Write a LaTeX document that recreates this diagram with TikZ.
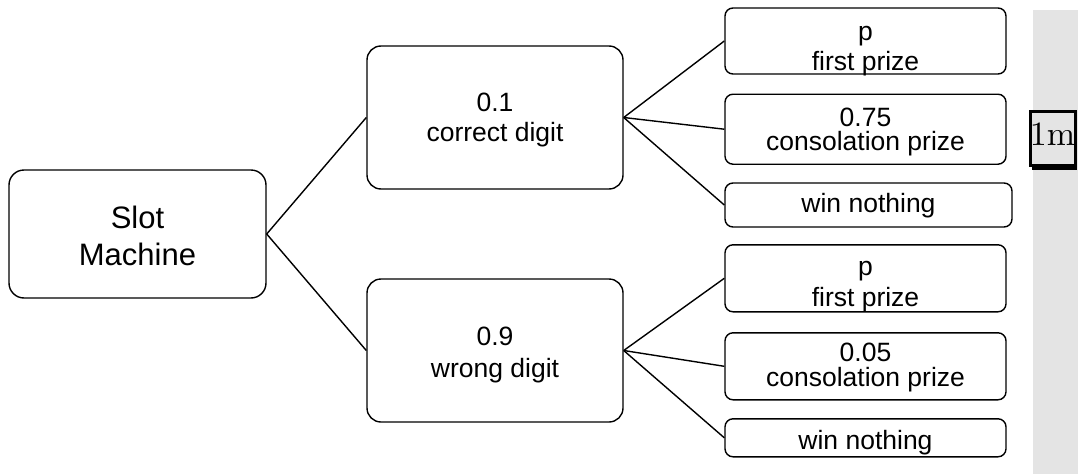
\documentclass[tikz,border=0pt]{standalone}
\usepackage{fontspec}
\newfontfamily\arial{Liberation Sans}
\newfontfamily\lmten{lmroman10-regular}[Extension=.otf]
\usetikzlibrary{shadows,calc}
\definecolor{panel}{RGB}{228,228,228}
\begin{document}
\begin{tikzpicture}[x=1pt,y=-1pt,
  box/.style={draw=black, line width=1.4pt, inner sep=0pt},
  bigbox/.style={box, rounded corners=14pt},
  rootbox/.style={box, rounded corners=15pt},
  leafbox/.style={box, rounded corners=8pt},
  lbl/.style={anchor=base, inner sep=0pt, text=black, font=\arial\fontsize{26.5}{30}\selectfont},
  rootlbl/.style={lbl, font=\arial\fontsize{31}{37}\selectfont},
  link/.style={draw=black, line width=1.4pt}]
\useasboundingbox (0,0) rectangle (1080,474);
\fill[panel] (1033,10) rectangle (1078,474);
% boxes
\node[rootbox, minimum width=257pt, minimum height=128pt] (slot) at (137.5,234) {};
\node[bigbox, minimum width=256pt, minimum height=143pt] (cor) at (495,117.5) {};
\node[bigbox, minimum width=256pt, minimum height=143pt] (wro) at (495,350.5) {};
\node[leafbox, minimum width=281pt, minimum height=66pt] (p1) at (865.5,41) {};
\node[leafbox, minimum width=281pt, minimum height=70pt] (c1) at (865.5,129.2) {};
\node[leafbox, minimum width=287pt, minimum height=44pt] (n1) at (868.5,205) {};
\node[leafbox, minimum width=281pt, minimum height=67pt] (p2) at (865.5,278.3) {};
\node[leafbox, minimum width=281pt, minimum height=67pt] (c2) at (865.5,366.3) {};
\node[leafbox, minimum width=281pt, minimum height=38pt] (n2) at (865.5,437.8) {};
% texts
\node[rootlbl] (slotA) at ($(slot.center)+(0,-5.7)$) {Slot};
\node[rootlbl] (slotB) at ($(slot.center)+(0,31)$) {Machine};
\node[lbl] (corA) at ($(cor.center)+(0,-5.8)$) {0.1};
\node[lbl] (corB) at ($(cor.center)+(0,24.2)$) {correct digit};
\node[lbl] (wroA) at ($(wro.center)+(0,-5.5)$) {0.9};
\node[lbl] (wroB) at ($(wro.center)+(0,26.8)$) {wrong digit};
\node[lbl] (p1A) at ($(p1.center)+(0,-1)$) {p};
\node[lbl] (p1B) at ($(p1.center)+(0,29)$) {first prize};
\node[lbl] (c1A) at ($(c1.center)+(0,-3.2)$) {0.75};
\node[lbl] (c1B) at ($(c1.center)+(0,21.5)$) {consolation prize};
\node[lbl] (n1A) at ($(n1.center)+(0,7.7)$) {win nothing};
\node[lbl] (p2A) at ($(p2.center)+(0,-3)$) {p};
\node[lbl] (p2B) at ($(p2.center)+(0,27.7)$) {first prize};
\node[lbl] (c2A) at ($(c2.center)+(0,-4.6)$) {0.05};
\node[lbl] (c2B) at ($(c2.center)+(0,20.4)$) {consolation prize};
\node[lbl] (n2A) at ($(n2.center)+(0,11.5)$) {win nothing};
% connectors
\draw[link] (slot.east) -- (cor.west);
\draw[link] (slot.east) -- (wro.west);
\draw[link] (cor.east) -- (p1.west);
\draw[link] (cor.east) -- (c1.west);
\draw[link] (cor.east) -- (n1.west);
\draw[link] (wro.east) -- (p2.west);
\draw[link] (wro.east) -- (c2.west);
\draw[link] (wro.east) -- (n2.west);
% 1m box
\node[draw=black, line width=3pt, fill=panel, inner sep=0pt, minimum width=45pt, minimum height=54pt,
  drop shadow={shadow xshift=2pt, shadow yshift=-4pt, fill=black, opacity=1}] (m) at (1052.5,138.5) {};
\node[anchor=base, inner sep=0pt, font=\lmten\fontsize{34}{38}\selectfont] (mt) at ($(m.center)+(0,6.5)$) {1m};
\end{tikzpicture}
\end{document}
